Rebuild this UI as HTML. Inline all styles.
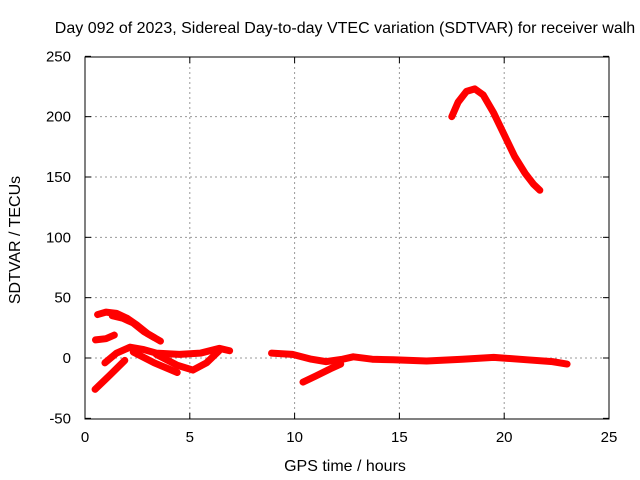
<!DOCTYPE html>
<html><head><meta charset="utf-8"><style>
body{margin:0;background:#fff}
svg{display:block;font-family:"Liberation Sans",sans-serif}
</style></head><body>
<svg id="chart" width="640" height="480">
<text x="345" y="33" font-size="16" text-anchor="middle">Day 092 of 2023, Sidereal Day-to-day VTEC variation (SDTVAR) for receiver walh</text>
<text x="345" y="471" font-size="16" text-anchor="middle">GPS time / hours</text>
<text transform="translate(20,240) rotate(-90)" font-size="16" text-anchor="middle">SDTVAR / TECUs</text>
<g id="grid"></g><g id="series"></g>
<rect x="85" y="57" width="524" height="362" fill="none" stroke="#000" stroke-width="1"/>
</svg>
<script>
const xTicks=[0,5,10,15,20,25];
const yTicks=[-50,0,50,100,150,200,250];
const sHump=[[17.5,200],[17.8,212],[18.2,221],[18.6,223],[19.0,218],[19.5,203],[20.0,185],[20.5,167],[21.0,153],[21.4,144],[21.7,139]];
const sDesc=[[0.6,36],[1.0,38],[1.5,37],[2.0,33],[2.5,27],[3.0,20],[3.6,14]];
const sDesc2=[[1.3,35],[1.8,33],[2.3,29],[2.8,22],[3.3,17]];
const sShort=[[0.5,15],[1.0,16],[1.4,19]];
const sMid=[[0.95,-4],[1.5,4],[2.15,9],[2.8,7],[3.4,4],[4.5,3],[5.5,4],[6.4,8],[6.9,6]];
const sBranch=[[3.4,3],[4.4,-6],[5.15,-10],[5.8,-4],[6.4,6]];
const sLow=[[2.3,5],[3.3,-4],[4.4,-12]];
const sBottom=[[0.48,-26],[1.2,-14],[1.9,-2]];
const sRight=[[8.9,4],[9.9,3],[10.8,-1],[11.5,-3],[12.3,-1],[12.8,1],[13.7,-1],[14.7,-1.5],[16.3,-2.5],[18.0,-1],[19.5,0.5],[21.1,-1.5],[22.3,-3],[23.0,-5]];
const sRightBranch=[[10.4,-20],[11.0,-15],[11.7,-9],[12.2,-5]];
const allSeries=[sHump,sDesc,sDesc2,sShort,sMid,sBranch,sLow,sBottom,sRight,sRightBranch];
const X=h=>85+h*524/25, Y=v=>358-v*362/300;
const NS='http://www.w3.org/2000/svg';
const grid=document.getElementById('grid'), ser=document.getElementById('series'), svg=document.getElementById('chart');
function mk(t,a,p){const e=document.createElementNS(NS,t);for(const k in a)e.setAttribute(k,a[k]);p.appendChild(e);return e;}
xTicks.forEach(t=>{const x=X(t);
 if(t>0&&t<25){const l=mk('line',{x1:x,x2:x,y1:57,y2:419,stroke:'#999','stroke-dasharray':'2,3'},grid);
 
 }
 mk('line',{x1:x,x2:x,y1:419,y2:413,stroke:'#000'},grid);mk('line',{x1:x,x2:x,y1:57,y2:63,stroke:'#000'},grid);
 const tx=mk('text',{x:x,y:442,'font-size':15,'text-anchor':'middle'},svg);tx.textContent=t;
 
 });
yTicks.forEach(t=>{const y=Y(t);
 if(t>-50&&t<250){const l=mk('line',{x1:85,x2:609,y1:y,y2:y,stroke:'#999','stroke-dasharray':'2,3'},grid);
 
 }
 mk('line',{x1:85,x2:91,y1:y,y2:y,stroke:'#000'},grid);mk('line',{x1:609,x2:603,y1:y,y2:y,stroke:'#000'},grid);
 const tx=mk('text',{x:71,y:y+5,'font-size':15,'text-anchor':'end'},svg);tx.textContent=t;
 
 });
allSeries.forEach((s,i)=>{const p=mk('polyline',{points:s.map(d=>X(d[0])+','+Y(d[1])).join(' '),fill:'none',stroke:'#f00','stroke-width':7,'stroke-linejoin':'round','stroke-linecap':'round'},ser);
 
 });
</script>
</body></html>
